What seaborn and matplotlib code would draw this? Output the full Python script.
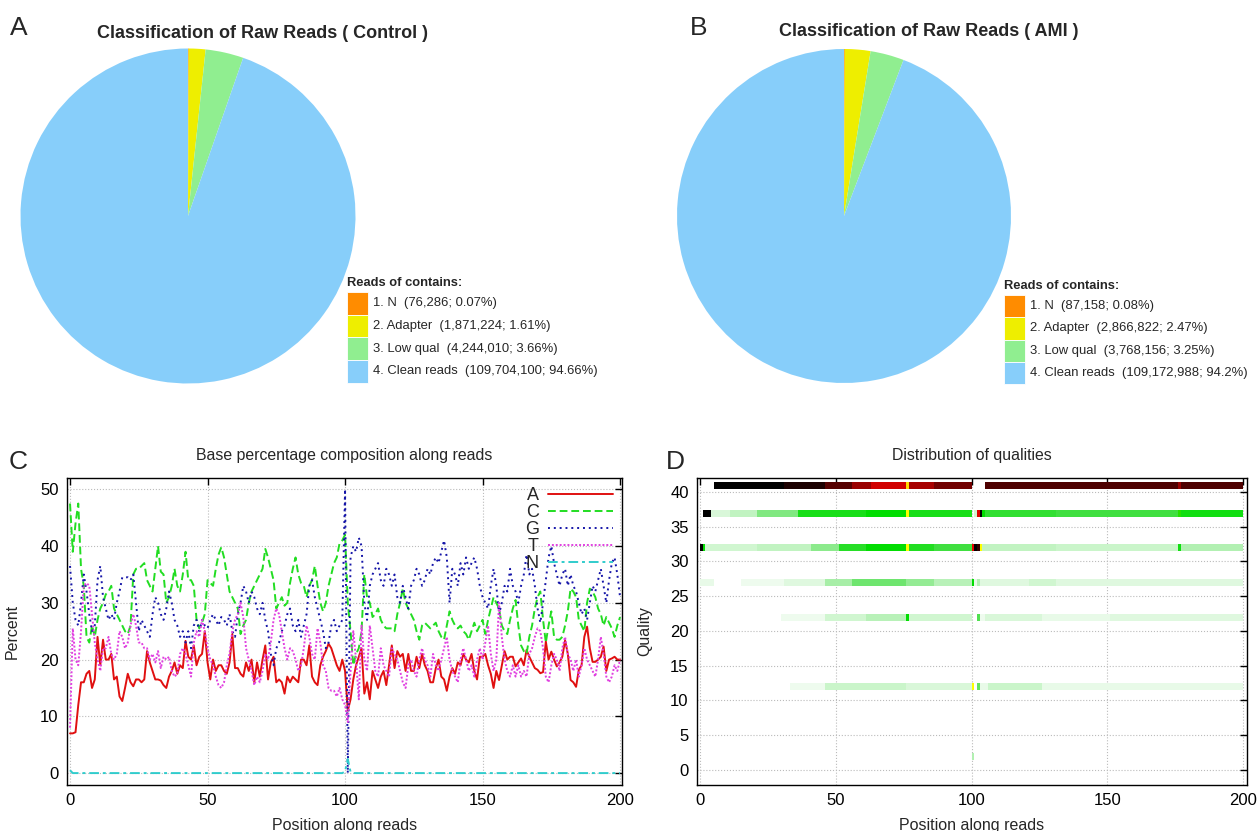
import numpy as np
import pandas as pd
import seaborn as sns
import matplotlib
matplotlib.use("Agg")
import matplotlib.pyplot as plt
from matplotlib.colors import LinearSegmentedColormap
from matplotlib.patches import Rectangle

# ---------------- data ----------------
PIE_LABELS = ["1. N", "2. Adapter", "3. Low qual", "4. Clean reads"]
PIE_COLORS = ["#ff8c00", "#eeee00", "#90ee90", "#87cefa"]
CONTROL_COUNTS = [76286, 1871224, 4244010, 109704100]
CONTROL_PCT = ["0.07%", "1.61%", "3.66%", "94.66%"]
AMI_COUNTS = [87158, 2866822, 3768156, 109172988]
AMI_PCT = ["0.08%", "2.47%", "3.25%", "94.2%"]

POS = list(range(0, 201))
BASE_A = [7, 7, 7.2, 12, 16, 16, 17.5, 18, 15, 16.5,
          24, 19, 23.5, 20, 20, 21, 16.5, 17, 13.5, 12.7,
          15, 17.5, 16, 15.3, 16.5, 16.5, 16, 16.5, 21.5, 19.5,
          18, 16.5, 16.5, 16.3, 15.5, 15, 17, 18, 19.5, 17.5,
          19, 18.5, 23.3, 20.5, 20, 22.5, 19, 20.5, 21, 25,
          19.5, 16.5, 20, 18, 19, 19, 18, 17.5, 19.5, 24.5,
          18.5, 18.5, 17.5, 17, 19.5, 18, 20, 16, 19.5, 17,
          20, 22.5, 16.5, 19.5, 20.5, 16, 16.5, 16, 14, 17,
          16, 17, 16.5, 16, 20, 20, 19, 22.5, 17, 16,
          15.5, 19, 20.5, 21.5, 22.8, 22, 20.5, 19, 18, 20,
          18, 11, 13, 16.5, 19, 20.5, 22, 14, 16, 13,
          18, 16.5, 15, 17, 18, 15.5, 19, 22.5, 18.5, 21.5,
          20.5, 21, 18, 21, 18, 18, 20.5, 18.5, 21, 19,
          18, 16, 16, 18.5, 20, 17, 16.5, 14.5, 17, 18.5,
          17.5, 19.5, 19, 21, 20, 19.5, 21, 18, 16.5, 20.5,
          20.5, 21, 19, 17.5, 15, 18, 16.4, 19, 21.5, 20,
          20.5, 20.5, 18.8, 19.5, 20.2, 19, 21.7, 20.5, 19.5, 18.5,
          18.2, 17.6, 17.8, 23.2, 20, 21.4, 20, 18.8, 19.5, 20.5,
          23.4, 21, 16.4, 16, 15.2, 18.2, 19, 24, 25.8, 22,
          19.6, 19.6, 20, 20.5, 22.3, 18, 20, 20.2, 20.5, 20,
          20]
BASE_C = [47.5, 39, 44, 47.5, 36, 33, 24, 23, 26, 24,
          27, 29, 30, 31.5, 32, 33, 29, 28, 27, 26,
          25, 24.5, 26, 35, 36, 36, 36.5, 37, 34, 33,
          32, 36, 40, 35.5, 35, 30, 31, 33, 36, 33,
          32, 35, 39, 34, 34, 33, 27, 25.5, 26.5, 28,
          34, 33.5, 33, 36, 38.5, 39.8, 38, 35, 32, 31,
          30, 29, 24.5, 26, 27, 30, 32, 33, 34, 35,
          36, 39.5, 38, 36, 34, 29, 30, 31, 29.5, 30,
          33.5, 36, 38, 35, 33.5, 33, 31, 33, 34, 36.5,
          33, 30, 28.5, 30, 33, 35, 37, 38, 40.5, 41,
          42, 30, 25, 19, 21, 22, 25, 35, 31, 30,
          27.5, 28, 29, 27, 26, 25.5, 25.5, 25.5, 25, 28,
          30, 32.5, 30, 29, 28, 27, 25, 23.5, 26, 26.5,
          26, 25.5, 26, 26.5, 25, 24, 23.5, 26, 28.5, 27,
          26, 25.5, 26, 25, 24.5, 23.5, 25, 26.5, 25, 26,
          27, 24.5, 27, 29, 31, 30, 29, 26, 25, 24.5,
          27, 29, 30.5, 26, 22.5, 21.5, 21, 24, 26, 29,
          31, 32, 27, 23, 26, 28.5, 24, 23.5, 23.5, 24,
          26, 28.5, 32.5, 32, 31, 27, 26, 25, 30, 32.5,
          32, 31, 29, 28, 26, 27.5, 26.5, 25.5, 24, 26,
          27.5]
BASE_G = [36.5, 30, 27, 26, 30, 35, 32, 28, 25, 26,
          34, 36.5, 31, 29, 27, 28, 27, 30, 32, 34.5,
          34.5, 34.5, 34, 35, 30, 25, 27, 26, 25, 24,
          28, 31, 30, 28, 27, 29, 32, 30, 27, 26,
          24, 25, 23, 25, 22, 26, 27, 25, 27, 26,
          25.5, 27, 28, 27, 26, 27.5, 27, 26, 28, 25,
          24, 28, 30, 33, 32, 30, 32, 31, 29, 28,
          30, 27, 25, 21, 19, 22, 23, 25, 26, 28,
          29, 26, 25, 27, 24, 26, 28, 33, 34, 31,
          29, 27, 25, 22, 23, 26, 27, 25, 26, 27,
          50, 0, 38, 40, 39, 41.5, 40, 30, 27, 33,
          35, 36, 37, 34, 33, 36, 35, 33, 35, 31,
          30, 33, 31, 29, 33, 34, 36, 35, 33, 34,
          36, 35, 37, 38, 37, 39, 41, 38, 30, 36,
          35, 33, 37, 35, 38, 36, 37, 38, 36, 33,
          31, 30, 29, 33, 36, 33, 28, 30, 33, 32,
          36, 33, 32, 30, 33, 35, 38.5, 35, 36, 33,
          29, 26.5, 30, 34, 38, 40, 37, 35, 33, 35,
          36, 33, 35, 33, 32, 30, 28, 29, 27, 30,
          33, 32, 34, 36, 33, 30, 34, 37, 38, 35,
          31]
BASE_T = [8, 25.5, 20, 19, 25, 33, 33.5, 33, 28, 23,
          20, 18, 22, 22, 24, 21, 20, 21, 25, 24,
          22, 23, 26, 28, 26, 23, 23, 22, 22, 20,
          21, 19.5, 21.5, 18.5, 20.5, 20, 20.5, 18, 17, 17.5,
          21, 22, 21, 19, 17, 23, 25, 24, 27, 25,
          22, 20, 19, 17, 15.5, 15, 16, 19, 21, 25,
          27, 28, 30, 27.5, 22, 20, 18, 15.5, 17, 16,
          18, 21, 20, 23, 27, 29, 28, 25, 22, 20,
          22, 21.5, 20, 18, 19, 22, 26, 24, 21, 20,
          25.5, 23, 19, 18, 15, 14.5, 14.5, 13.5, 15, 13,
          12, 9, 18, 25, 20, 13, 26, 20, 18, 26,
          22, 18, 17, 22, 19, 18, 17, 22, 21, 20,
          18, 16, 15, 19, 20, 18, 17, 20, 22, 20,
          19, 17, 21, 19, 18, 20, 22, 24, 20, 18,
          17, 16, 20, 22, 20, 18, 19, 17, 20, 22,
          20, 23, 26, 21, 18, 20, 30, 24, 20, 18,
          17, 19, 17, 19, 17, 18, 17, 21, 22, 24,
          25.5, 25, 22, 17, 16, 19, 21, 20, 18, 22,
          24, 21, 20, 18, 20, 17, 19, 22, 20, 19,
          18, 17, 20, 24, 21, 17, 16, 17, 19, 18,
          20]
BASE_N = [0.5] + [0] * 99 + [0.3, 2.5, 0.2] + [0] * 98
BASE_NAMES = ["A", "C", "G", "T", "N"]
BASE_COLORS = ["#e01010", "#22dd22", "#1515a8", "#e040e0", "#30cccc"]

# quality distribution: (first pos, last pos, percent of reads) per quality row
QUALS = [41, 37, 32, 27, 22, 12, 2]
Q41 = [(5, 30, 93), (31, 45, 88), (46, 55, 80), (56, 62, 70), (63, 75, 62),
       (76, 76, 44), (77, 85, 68), (86, 99, 76), (105, 175, 81), (176, 176, 70),
       (177, 199, 81)]
Q37 = [(1, 3, 95), (4, 10, 5), (11, 20, 8), (21, 35, 15), (36, 60, 27),
       (61, 75, 30), (76, 76, 42), (77, 99, 27), (101, 101, 6), (102, 102, 60),
       (103, 103, 92), (104, 104, 30), (105, 130, 24), (131, 175, 22),
       (176, 176, 32), (177, 199, 28)]
Q32 = [(0, 0, 95), (1, 1, 30), (2, 20, 6), (21, 40, 8), (41, 50, 14),
       (51, 60, 25), (61, 75, 30), (76, 76, 42), (77, 85, 26), (86, 99, 22),
       (100, 100, 58), (101, 101, 92), (102, 102, 85), (103, 103, 42),
       (104, 130, 8), (131, 175, 7), (176, 176, 28), (177, 199, 10)]
Q27 = [(0, 4, 3), (15, 30, 2), (31, 45, 4), (46, 55, 11), (56, 75, 17),
       (76, 85, 13), (86, 99, 9), (100, 100, 30), (101, 101, 3), (102, 102, 10),
       (103, 120, 4), (121, 130, 6), (131, 199, 4)]
Q22 = [(30, 45, 2), (46, 60, 6), (61, 75, 9), (76, 76, 30), (77, 99, 6),
       (102, 102, 20), (103, 104, 2), (105, 125, 5), (126, 150, 3), (151, 199, 4)]
Q12 = [(33, 45, 2), (46, 75, 7), (76, 99, 5), (100, 100, 42), (102, 102, 18),
       (103, 105, 3), (106, 125, 7), (126, 199, 3)]
Q2 = [(100, 100, 10)]
QUAL_SEGS = [Q41, Q37, Q32, Q27, Q22, Q12, Q2]

# ---------------- figure ----------------
W, H = 1257, 831
sns.set_theme(style="white")
plt.rcParams["font.family"] = ["Liberation Sans", "DejaVu Sans"]
fig = plt.figure(figsize=(W / 100, H / 100), dpi=100)


def fx(x):
    return x / W


def fy(y):
    return 1 - y / H


def axes_px(l, t, r, b):
    return fig.add_axes([l / W, 1 - b / H, (r - l) / W, (b - t) / H])


def pie_panel(letter, lx, title, tx, ty, cx, cy, r, counts, pcts, lgx, lgy, row_h):
    ax = axes_px(cx - r, cy - r, cx + r, cy + r)
    ax.pie(counts, colors=PIE_COLORS, startangle=90, counterclock=False,
           radius=1, wedgeprops=dict(linewidth=0))
    ax.set_xlim(-1, 1)
    ax.set_ylim(-1, 1)
    fig.text(fx(lx), fy(28), letter, fontsize=19, ha="left", va="center")
    fig.text(fx(tx), fy(ty), title, fontsize=13, fontweight="bold",
             ha="left", va="center")
    fig.text(fx(lgx), fy(lgy), "Reads of contains:", fontsize=9.3,
             fontweight="bold", ha="left", va="center")
    top = lgy + 9
    for i, (lab, c, n, p) in enumerate(zip(PIE_LABELS, PIE_COLORS, counts, pcts)):
        y0 = top + i * row_h
        fig.add_artist(Rectangle((fx(lgx), fy(y0 + row_h)), 21 / W, row_h / H,
                                 transform=fig.transFigure, facecolor=c,
                                 edgecolor="white", linewidth=0.6))
        fig.text(fx(lgx + 26), fy(y0 + row_h / 2), f"{lab}  ({n:,}; {p})",
                 fontsize=9.4, ha="left", va="center")


pie_panel("A", 10, "Classification of Raw Reads ( Control )", 97, 33,
          188, 216, 167.5, CONTROL_COUNTS, CONTROL_PCT, 347, 283, 22.7)
pie_panel("B", 690, "Classification of Raw Reads ( AMI )", 779, 31,
          844, 216, 167, AMI_COUNTS, AMI_PCT, 1004, 286, 22.3)


def style_axes(ax):
    for s in ax.spines.values():
        s.set_color("black")
        s.set_linewidth(1.0)
        s.set_visible(True)
    ax.tick_params(direction="in", top=True, right=True, length=5, width=1,
                   labelsize=12, colors="black", pad=6)
    ax.grid(True, linestyle=":", color="#bbbbbb", linewidth=0.8)
    ax.set_axisbelow(True)


# ---- panel C ----
axC = axes_px(67, 478, 622, 785)
styles = ["-", (0, (4, 2)), (0, (1, 2)), (0, (1, 1)), (0, (5, 2, 1.5, 2))]
for name, vals, col, ls in zip(BASE_NAMES, [BASE_A, BASE_C, BASE_G, BASE_T, BASE_N],
                               BASE_COLORS, styles):
    sns.lineplot(x=POS, y=vals, ax=axC, color=col, linestyle=ls,
                 linewidth=1.4, label=name, errorbar=None)
axC.set_xlim(-1.1, 200.7)
axC.set_ylim(-2.1, 52)
axC.set_xticks([0, 50, 100, 150, 200])
axC.set_yticks([0, 10, 20, 30, 40, 50])
style_axes(axC)
axC.set_title("Base percentage composition along reads", fontsize=11.4, pad=13)
axC.set_xlabel("Position along reads", fontsize=11.5)
axC.set_ylabel("Percent", fontsize=11.5)
axC.xaxis.set_label_coords(0.5, -0.108)
axC.yaxis.set_label_coords(-0.085, 0.5)
h, l = axC.get_legend_handles_labels()
axC.legend(h, l, loc="upper right", frameon=False, markerfirst=False,
           handlelength=3.6, fontsize=13, labelspacing=0.0,
           handletextpad=0.5, borderaxespad=0.1)
fig.text(fx(18), fy(462), "C", fontsize=19, ha="center", va="center")

# ---- panel D ----
axD = axes_px(697, 478, 1247, 785)
Z = np.full((43, 200), np.nan)
for q, segs in zip(QUALS, QUAL_SEGS):
    for a, b, v in segs:
        Z[q, a:b + 1] = v
cmap = LinearSegmentedColormap.from_list(
    "qual", [(0.0, "#ffffff"), (0.02, "#eefbee"), (0.1, "#b0f0b0"),
             (0.2, "#50e050"), (0.3, "#00dd00"), (0.42, "#ffff00"),
             (0.55, "#ff0000"), (0.75, "#7a0000"), (0.92, "#000000"),
             (1.0, "#000000")])
axD.pcolormesh(np.arange(201), np.arange(44) - 0.55, np.ma.masked_invalid(Z),
               cmap=cmap, vmin=0, vmax=100, shading="flat", zorder=2)
axD.set_xlim(-1.1, 201.4)
axD.set_ylim(-2.2, 42)
axD.set_xticks([0, 50, 100, 150, 200])
axD.set_yticks(list(range(0, 41, 5)))
style_axes(axD)
axD.set_title("Distribution of qualities", fontsize=11.4, pad=13)
axD.set_xlabel("Position along reads", fontsize=11.5)
axD.set_ylabel("Quality", fontsize=11.5)
axD.xaxis.set_label_coords(0.5, -0.108)
axD.yaxis.set_label_coords(-0.082, 0.5)
fig.text(fx(675), fy(462), "D", fontsize=19, ha="center", va="center")

fig.savefig("out.png", dpi=100)
